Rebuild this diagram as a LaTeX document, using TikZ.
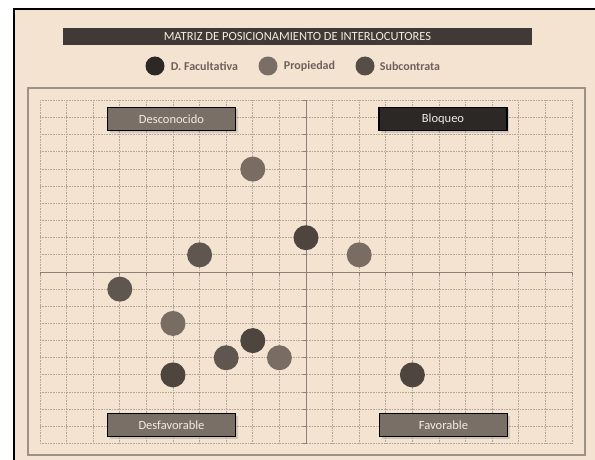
\documentclass[tikz,border=0pt]{standalone}
\usepackage{fontspec}
\setmainfont{Carlito}
\usetikzlibrary{positioning,shadows}

\definecolor{fondo}{HTML}{F4E3D1}
\definecolor{barra}{HTML}{3F3A36}
\definecolor{oscuro}{HTML}{2B2826}
\definecolor{medio}{HTML}{574D47}
\definecolor{claro}{HTML}{7A6F67}
\definecolor{pfacult}{HTML}{4E453F}
\definecolor{psub}{HTML}{5F564F}
\definecolor{pprop}{HTML}{786C63}
\definecolor{rejilla}{HTML}{B3A598}
\definecolor{eje}{HTML}{8C8178}
\definecolor{marco}{HTML}{9D9288}
\definecolor{letra}{HTML}{6B625B}
\definecolor{blanco}{HTML}{F3EBE3}

\tikzset{
  punto/.style={circle, inner sep=0pt, minimum size=25pt},
  facult/.style={punto, fill=pfacult},
  subcon/.style={punto, fill=psub},
  propie/.style={punto, fill=pprop},
  leyenda/.style={circle, inner sep=0pt, minimum size=19pt},
  textoley/.style={inner sep=0pt, text=letra, font=\fontsize{12}{13}\selectfont\bfseries},
  cuadrante/.style={draw=black, line width=1.2pt, minimum width=128pt, minimum height=23pt,
    inner sep=0pt, text=blanco, font=\fontsize{12.5}{13}\selectfont,
    drop shadow={opacity=0.3, shadow xshift=2pt, shadow yshift=-2pt}},
  lineagrid/.style={rejilla, line width=1pt, dash pattern=on 0.8pt off 0.8pt},
}

\begin{document}
\begin{tikzpicture}[x=1pt,y=-1pt]
\useasboundingbox (0,0) rectangle (595,460);
\fill[white] (0,0) rectangle (595,460);

\fill[fondo] (14,9) rectangle (600,470);
\draw[black, line width=2pt] (14,470) -- (14,9) -- (600,9);

\draw[marco, line width=1.5pt] (28,88) rectangle (585,455);

\node[fill=barra, minimum width=469pt, minimum height=17pt, inner sep=0pt,
  text=blanco, font=\fontsize{12.5}{13}\selectfont] (titulo) at (297.5,36.5)
  {MATRIZ DE POSICIONAMIENTO DE INTERLOCUTORES};

\node[leyenda, fill=oscuro] (lfacult) at (155,66) {};
\node[textoley, right=6pt of lfacult] (tfacult) {D. Facultativa};
\node[leyenda, fill=claro] (lpropie) at (268,66) {};
\node[textoley, right=6pt of lpropie] (tpropie) {Propiedad};
\node[leyenda, fill=medio] (lsubcon) at (365,66) {};
\node[textoley, right=5pt of lsubcon] (tsubcon) {Subcontrata};

\begin{scope}[shift={(306,272)}, x=26.6pt, y=17.15pt]
\foreach \i in {-10,...,10} \draw[lineagrid] (\i,-10) -- (\i,10);
\foreach \j in {-10,...,10} \draw[lineagrid] (-10,\j) -- (10,\j);

\draw[eje, line width=1pt] (-10,0) -- (10,0);
\draw[eje, line width=1pt] (0,-10) -- (0,10);
\foreach \i in {-10,...,10} \draw[eje, line width=1pt] (\i,0) -- ++(0,-3pt);
\foreach \j in {-10,...,10} \draw[eje, line width=1pt] (0,\j) -- ++(-3pt,0);

\node[propie] (p1) at (-2,6) {};
\node[facult] (p2) at (0,2) {};
\node[subcon] (p3) at (-4,1) {};
\node[propie] (p4) at (2,1) {};
\node[subcon] (p5) at (-7,-1) {};
\node[propie] (p6) at (-5,-3) {};
\node[facult] (p7) at (-2,-4) {};
\node[subcon] (p8) at (-3,-5) {};
\node[propie] (p9) at (-1,-5) {};
\node[facult] (p10) at (-5,-6) {};
\node[facult] (p11) at (4,-6) {};
\end{scope}

\node[cuadrante, fill=claro] (desconocido) at (171.5,119) {Desconocido};
\node[cuadrante, fill=oscuro] (bloqueo) at (443,119) {Bloqueo};
\node[cuadrante, fill=claro] (desfavorable) at (171.5,425) {Desfavorable};
\node[cuadrante, fill=claro] (favorable) at (443.5,425) {Favorable};
\end{tikzpicture}
\end{document}
